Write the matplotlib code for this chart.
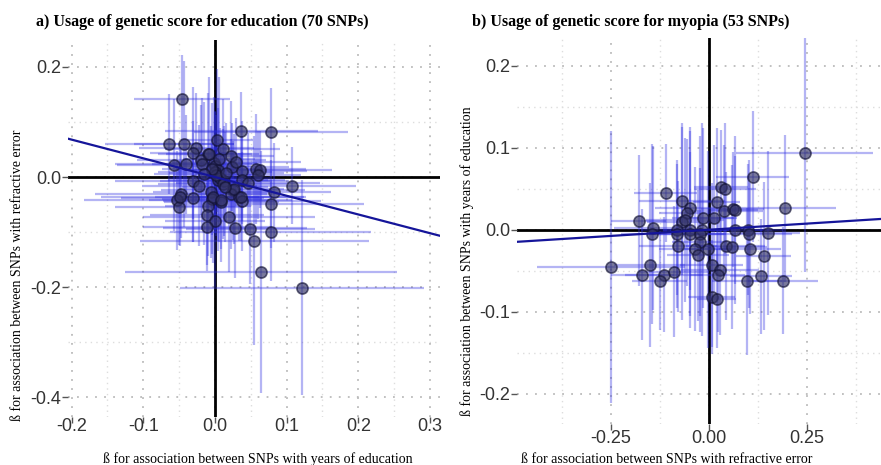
import numpy as np
import matplotlib
matplotlib.use('Agg')
import matplotlib.pyplot as plt

# a) genetic score for education: beta(education) vs beta(refractive error)
edu_x = [-0.046, 0.037, 0.078, -0.064, -0.043, -0.026, -0.030, 0.003, 0.011, 0.022,
         -0.009, -0.019, -0.057, -0.040, -0.002, 0.024, 0.038, 0.057, 0.063, 0.060,
         0.107, -0.030, 0.004, 0.013, 0.082, -0.047, -0.053, -0.031, -0.006, 0.025,
         0.022, 0.034, 0.038, 0.009, -0.004, -0.050, -0.010, 0.078, -0.011, 0.019,
         0.000, -0.011, 0.028, 0.049, 0.078, 0.055, 0.064, 0.121, -0.008, -0.018,
         0.000, 0.004, 0.000, 0.007, 0.011, 0.038, -0.003, 0.008, 0.027, 0.037,
         -0.049, 0.006, 0.002, -0.004, 0.016, 0.014, -0.015, 0.030, -0.022, 0.046]
edu_y = [0.142, 0.084, 0.082, 0.060, 0.060, 0.053, 0.044, 0.067, 0.051, 0.038,
         0.042, 0.031, 0.022, 0.023, 0.025, 0.019, 0.011, 0.014, 0.013, 0.004,
         -0.016, -0.008, -0.005, -0.007, -0.028, -0.031, -0.042, -0.038, -0.027, -0.024,
         -0.031, -0.036, -0.044, -0.045, -0.040, -0.054, -0.053, -0.049, -0.069, -0.072,
         -0.080, -0.090, -0.093, -0.095, -0.099, -0.116, -0.173, -0.201, 0.042, 0.024,
         0.020, 0.013, 0.009, -0.001, -0.012, -0.005, -0.036, -0.041, -0.022, -0.037,
         -0.036, 0.032, 0.003, 0.014, 0.008, -0.018, 0.006, 0.028, -0.016, -0.010]
edu_xerr = [0.067, 0.107, 0.107, 0.09, 0.07, 0.08, 0.06, 0.05, 0.08, 0.06,
            0.07, 0.09, 0.08, 0.10, 0.06, 0.08, 0.09, 0.07, 0.10, 0.06,
            0.09, 0.11, 0.07, 0.09, 0.08, 0.12, 0.13, 0.10, 0.08, 0.10,
            0.07, 0.09, 0.11, 0.08, 0.07, 0.09, 0.06, 0.13, 0.08, 0.12,
            0.07, 0.09, 0.10, 0.09, 0.14, 0.16, 0.19, 0.17, 0.06, 0.07,
            0.05, 0.06, 0.08, 0.07, 0.09, 0.06, 0.08, 0.10, 0.07, 0.09,
            0.11, 0.05, 0.06, 0.07, 0.08, 0.06, 0.07, 0.09, 0.08, 0.10]
edu_yerr = [0.08, 0.07, 0.08, 0.09, 0.15, 0.10, 0.12, 0.13, 0.09, 0.10,
            0.11, 0.10, 0.12, 0.09, 0.12, 0.08, 0.09, 0.10, 0.07, 0.08,
            0.07, 0.11, 0.13, 0.10, 0.09, 0.08, 0.09, 0.08, 0.12, 0.09,
            0.10, 0.08, 0.09, 0.11, 0.10, 0.07, 0.09, 0.08, 0.09, 0.10,
            0.12, 0.08, 0.09, 0.10, 0.09, 0.19, 0.22, 0.195, 0.14, 0.12,
            0.10, 0.13, 0.11, 0.09, 0.10, 0.08, 0.12, 0.09, 0.10, 0.08,
            0.09, 0.15, 0.11, 0.12, 0.09, 0.10, 0.13, 0.08, 0.11, 0.09]
edu_slope = -0.34

# b) genetic score for myopia: beta(refractive error) vs beta(education)
myo_x = [0.245, 0.112, 0.031, 0.041, -0.110, -0.069, 0.020, -0.048, -0.056, 0.038,
         0.061, 0.066, 0.196, -0.179, -0.069, -0.061, -0.015, 0.013, -0.143, -0.082,
         -0.048, -0.018, 0.066, 0.100, -0.145, -0.082, -0.047, -0.022, 0.103, 0.152,
         -0.079, -0.023, -0.036, -0.028, -0.003, 0.043, 0.059, 0.105, 0.140, -0.250,
         -0.151, -0.170, -0.115, -0.125, -0.089, 0.007, 0.028, 0.023, 0.097, 0.133,
         0.189, 0.008, 0.020]
myo_y = [0.094, 0.065, 0.052, 0.050, 0.045, 0.035, 0.034, 0.026, 0.021, 0.023,
         0.025, 0.024, 0.026, 0.011, 0.010, 0.012, 0.014, 0.014, 0.002, 0.000,
         0.000, 0.000, 0.000, 0.000, -0.005, -0.005, -0.005, -0.005, -0.005, -0.004,
         -0.020, -0.015, -0.024, -0.031, -0.024, -0.020, -0.021, -0.023, -0.032, -0.045,
         -0.043, -0.055, -0.055, -0.062, -0.051, -0.043, -0.049, -0.055, -0.063, -0.057,
         -0.062, -0.082, -0.084]
myo_xerr = [0.175, 0.093, 0.07, 0.08, 0.08, 0.11, 0.06, 0.09, 0.07, 0.10,
            0.08, 0.06, 0.13, 0.07, 0.09, 0.10, 0.08, 0.06, 0.10, 0.09,
            0.07, 0.08, 0.10, 0.09, 0.08, 0.07, 0.09, 0.06, 0.11, 0.08,
            0.10, 0.07, 0.09, 0.08, 0.06, 0.10, 0.09, 0.08, 0.07, 0.19,
            0.09, 0.08, 0.10, 0.07, 0.09, 0.08, 0.10, 0.07, 0.09, 0.08,
            0.09, 0.06, 0.05]
myo_yerr = [0.145, 0.08, 0.07, 0.08, 0.06, 0.09, 0.09, 0.10, 0.09, 0.08,
            0.07, 0.09, 0.09, 0.08, 0.12, 0.10, 0.11, 0.09, 0.10, 0.08,
            0.12, 0.13, 0.09, 0.08, 0.11, 0.09, 0.10, 0.12, 0.09, 0.10,
            0.08, 0.09, 0.10, 0.08, 0.12, 0.09, 0.10, 0.08, 0.09, 0.166,
            0.10, 0.08, 0.07, 0.06, 0.08, 0.10, 0.08, 0.07, 0.09, 0.07,
            0.065, 0.07, 0.06]
myo_slope = 0.03

W, H = 881, 465
fig = plt.figure(figsize=(W / 100, H / 100), dpi=100)
ax_a = fig.add_axes([68 / W, 1 - 417 / H, 372 / W, 377 / H])
ax_b = fig.add_axes([517 / W, 1 - 424 / H, 364 / W, 386 / H])

serif = ['Liberation Serif', 'DejaVu Serif']
sans = ['Liberation Sans', 'DejaVu Sans']


def panel(ax, x, y, xerr, yerr, slope, xlim, ylim, xt, xtl, yt, ytl, xminor, yminor, xpad):
    ax.set_xlim(*xlim)
    ax.set_ylim(*ylim)
    for v in xminor:
        ax.axvline(v, color='#dddddd', lw=1.0, ls=(0, (1, 3)), zorder=0)
    for v in yminor:
        ax.axhline(v, color='#dddddd', lw=1.0, ls=(0, (1, 3)), zorder=0)
    for v in xt:
        ax.axvline(v, color='#bbbbbb', lw=1.3, ls=(0, (1, 4)), zorder=0)
    for v in yt:
        ax.axhline(v, color='#bbbbbb', lw=1.3, ls=(0, (1, 4)), zorder=0)
    ax.axvline(0, color='black', lw=2, zorder=1)
    ax.axhline(0, color='black', lw=2, zorder=1)
    ax.errorbar(x, y, xerr=xerr, yerr=yerr, fmt='none', ecolor='#2a2ae0',
                alpha=0.35, elinewidth=1.6, capsize=0, zorder=2)
    ax.scatter(x, y, s=64, facecolor='#333366', edgecolor='#111133',
               alpha=0.65, linewidths=1.2, zorder=3)
    ax.axline((0, 0), slope=slope, color='#15159a', lw=1.6, zorder=4)
    ax.set_xticks(xt)
    ax.set_xticklabels(xtl, family=sans, fontsize=13, color='#333333')
    ax.set_yticks(yt)
    ax.set_yticklabels(ytl, family=sans, fontsize=13, color='#333333')
    ax.tick_params(length=4, width=1, color='#555555', pad=1)
    ax.tick_params(axis='x', pad=xpad)
    for s in ax.spines.values():
        s.set_visible(False)


panel(ax_a, edu_x, edu_y, edu_xerr, edu_yerr, edu_slope,
      (-0.205, 0.314), (-0.436, 0.249),
      [-0.2, -0.1, 0.0, 0.1, 0.2, 0.3], ['-0.2', '-0.1', '0.0', '0.1', '0.2', '0.3'],
      [-0.4, -0.2, 0.0, 0.2], ['-0.4', '-0.2', '0.0', '0.2'],
      [-0.15, -0.05, 0.05, 0.15, 0.25], [-0.3, -0.1, 0.1], -3)
panel(ax_b, myo_x, myo_y, myo_xerr, myo_yerr, myo_slope,
      (-0.49, 0.44), (-0.237, 0.234),
      [-0.25, 0.0, 0.25], ['-0.25', '0.00', '0.25'],
      [-0.2, -0.1, 0.0, 0.1, 0.2], ['-0.2', '-0.1', '0.0', '0.1', '0.2'],
      [-0.375, -0.125, 0.125, 0.375], [-0.15, -0.05, 0.05, 0.15], 0)

# axis titles placed in figure pixels
lab = dict(family=serif, fontsize=10, ha='center', va='center')
fig.text(258 / W, 1 - 459 / H, 'ß for association between SNPs with years of education', **lab)
fig.text(17.5 / W, 1 - 275 / H, 'ß for association between SNPs with refractive error',
         rotation=90, **lab)
fig.text(667 / W, 1 - 459 / H, 'ß for association between SNPs with refractive error', **lab)
fig.text(467.5 / W, 1 - 261 / H, 'ß for association between SNPs with years of education',
         rotation=90, **lab)

fig.text(36 / W, 1 - 22 / H, 'a) Usage of genetic score for education (70 SNPs)',
         family=serif, fontsize=11.5, weight='bold', va='center', ha='left')
fig.text(472 / W, 1 - 22 / H, 'b) Usage of genetic score for myopia (53 SNPs)',
         family=serif, fontsize=11.5, weight='bold', va='center', ha='left')

fig.savefig('out.png', dpi=100)
